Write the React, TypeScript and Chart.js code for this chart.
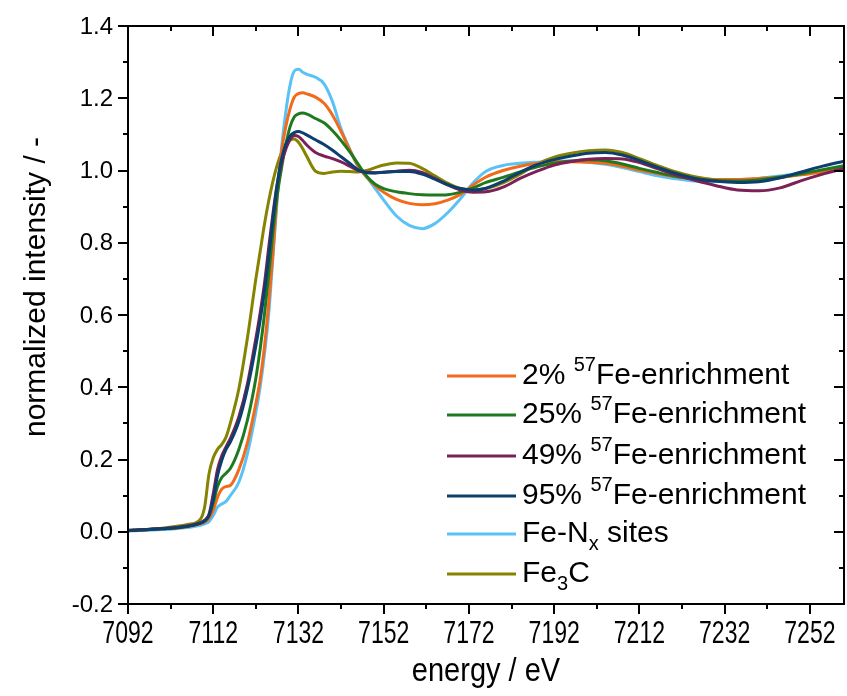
import React, { useEffect, useRef } from 'react';
import { Chart, registerables } from 'chart.js';

Chart.register(...registerables);

// ---------- data ----------
const energy = [
  7092, 7100, 7106, 7109, 7110, 7111, 7112, 7113, 7114, 7115, 7116, 7118, 7120, 7122,
  7123, 7124, 7125, 7126, 7127, 7128, 7129, 7130, 7131, 7132, 7133, 7134, 7136, 7138,
  7140, 7142, 7144, 7146, 7148, 7150, 7152, 7155, 7158, 7161, 7164, 7167, 7170, 7173,
  7176, 7180, 7184, 7188, 7192, 7196, 7200, 7204, 7208, 7212, 7216, 7220, 7225, 7230,
  7235, 7240, 7245, 7250, 7255, 7260,
];

const enrich2 = [
  0.003, 0.008, 0.014, 0.022, 0.027, 0.037, 0.06, 0.095, 0.118, 0.125, 0.128, 0.172, 0.245, 0.355,
  0.42, 0.51, 0.63, 0.77, 0.93, 1.05, 1.12, 1.17, 1.203, 1.213, 1.215, 1.212, 1.203, 1.186,
  1.153, 1.108, 1.058, 1.012, 0.982, 0.958, 0.94, 0.92, 0.909, 0.905, 0.908, 0.918, 0.934, 0.96,
  0.982, 1.0, 1.012, 1.02, 1.024, 1.024, 1.023, 1.02, 1.012, 1.001, 0.992, 0.984, 0.977, 0.975,
  0.975, 0.978, 0.982, 0.988, 0.996, 1.004,
];

const enrich25 = [
  0.003, 0.008, 0.015, 0.024, 0.03, 0.045, 0.08, 0.125, 0.15, 0.162, 0.175, 0.228, 0.308, 0.425,
  0.505, 0.6, 0.71, 0.83, 0.93, 1.005, 1.07, 1.12, 1.148, 1.157, 1.159, 1.156, 1.144, 1.132,
  1.11, 1.083, 1.052, 1.018, 0.984, 0.962, 0.95, 0.941, 0.936, 0.933, 0.932, 0.933, 0.94, 0.952,
  0.967, 0.981, 0.996, 1.01, 1.02, 1.026, 1.03, 1.027, 1.018, 1.006, 0.995, 0.985, 0.977, 0.972,
  0.971, 0.974, 0.982, 0.991, 1.002, 1.013,
];

const enrich49 = [
  0.004, 0.009, 0.016, 0.025, 0.032, 0.048, 0.105, 0.172, 0.21, 0.235, 0.258, 0.318, 0.408, 0.535,
  0.605, 0.685, 0.785, 0.88, 0.962, 1.02, 1.058, 1.085, 1.097, 1.094, 1.083, 1.07, 1.05, 1.04,
  1.033, 1.024, 1.012, 1.0, 0.995, 0.994, 0.995, 0.998, 1.001, 0.995, 0.978, 0.96, 0.946, 0.94,
  0.941, 0.954, 0.978, 0.998, 1.015, 1.025, 1.031, 1.033, 1.032, 1.022, 1.006, 0.99, 0.973, 0.958,
  0.946, 0.944, 0.952, 0.972, 0.99, 1.006,
];

const enrich95 = [
  0.003, 0.008, 0.015, 0.024, 0.03, 0.045, 0.09, 0.155, 0.198, 0.228, 0.248, 0.305, 0.395, 0.515,
  0.585, 0.665, 0.76, 0.865, 0.96, 1.03, 1.072, 1.095, 1.105, 1.108, 1.104, 1.098, 1.085, 1.072,
  1.056, 1.038, 1.02, 1.002, 0.994, 0.993, 0.995, 0.997, 0.997, 0.99, 0.976, 0.961, 0.95, 0.946,
  0.951, 0.97, 0.995, 1.016, 1.03, 1.04, 1.048, 1.05, 1.043, 1.028, 1.01, 0.994, 0.978, 0.97,
  0.967, 0.969, 0.98, 0.996, 1.012, 1.026,
];

const feNxSites = [
  0.002, 0.006, 0.012, 0.018, 0.022, 0.028, 0.045, 0.068, 0.077, 0.084, 0.1, 0.137, 0.215, 0.33,
  0.4, 0.49, 0.6, 0.76, 0.92, 1.06, 1.16, 1.235, 1.275, 1.28, 1.272, 1.266, 1.258, 1.24,
  1.19, 1.115, 1.06, 1.01, 0.982, 0.95, 0.918, 0.874, 0.848, 0.839, 0.853, 0.883, 0.922, 0.966,
  0.998, 1.014, 1.02, 1.023, 1.025, 1.026, 1.023, 1.017, 1.008, 0.997, 0.986, 0.978, 0.971, 0.97,
  0.973, 0.978, 0.985, 0.992, 0.998, 1.005,
];

const fe3c = [
  0.004, 0.01, 0.02, 0.035, 0.07, 0.16, 0.205, 0.228, 0.242, 0.262, 0.3, 0.395, 0.535, 0.7,
  0.775, 0.85, 0.915, 0.97, 1.015, 1.048, 1.07, 1.084, 1.087, 1.078, 1.06, 1.038, 0.998, 0.992,
  0.996, 0.998, 0.997, 0.996, 1.0, 1.008, 1.015, 1.021, 1.02, 1.006, 0.985, 0.965, 0.95, 0.945,
  0.95, 0.966, 0.99, 1.018, 1.037, 1.048, 1.055, 1.057, 1.05, 1.033, 1.015, 0.998, 0.983, 0.974,
  0.97, 0.972, 0.98, 0.99, 1.0, 1.01,
];

const xMajorTicks = [7092, 7112, 7132, 7152, 7172, 7192, 7212, 7232, 7252];
const xMinorTicks = [7102, 7122, 7142, 7162, 7182, 7202, 7222, 7242];
const yMajorTicks = [-0.2, 0, 0.2, 0.4, 0.6, 0.8, 1.0, 1.2, 1.4];
const yTickLabels = ['-0.2', '0.0', '0.2', '0.4', '0.6', '0.8', '1.0', '1.2', '1.4'];
const yMinorTicks = [-0.1, 0.1, 0.3, 0.5, 0.7, 0.9, 1.1, 1.3];

const xTitle = 'energy / eV';
const yTitle = 'normalized intensity / -';

type Part = { text: string; kind?: 'sup' | 'sub' };
const legendLabels: Part[][] = [
  [{ text: '2% ' }, { text: '57', kind: 'sup' }, { text: 'Fe-enrichment' }],
  [{ text: '25% ' }, { text: '57', kind: 'sup' }, { text: 'Fe-enrichment' }],
  [{ text: '49% ' }, { text: '57', kind: 'sup' }, { text: 'Fe-enrichment' }],
  [{ text: '95% ' }, { text: '57', kind: 'sup' }, { text: 'Fe-enrichment' }],
  [{ text: 'Fe-N' }, { text: 'x', kind: 'sub' }, { text: ' sites' }],
  [{ text: 'Fe' }, { text: '3', kind: 'sub' }, { text: 'C' }],
];

const seriesValues = [enrich2, enrich25, enrich49, enrich95, feNxSites, fe3c];
const seriesColors = ['#F26A1B', '#1F7A1F', '#7B2157', '#0C3E6E', '#5BC2F7', '#858300'];
const drawOrder = [3, 2, 1, 0, 5, 4];

const FONT = '"Liberation Sans", Arial, Helvetica, sans-serif';

const axesPlugin = {
  id: 'customAxes',
  afterDraw(chart: any) {
    const { ctx, chartArea: a, scales } = chart;
    const xs = scales.x;
    const ys = scales.y;
    ctx.save();
    ctx.strokeStyle = '#000';
    ctx.fillStyle = '#000';
    ctx.lineWidth = 2;
    // box
    ctx.strokeRect(a.left, a.top, a.right - a.left, a.bottom - a.top);
    const major = 10;
    const minor = 5;
    ctx.beginPath();
    const xTick = (v: number, len: number) => {
      const px = Math.round(xs.getPixelForValue(v));
      ctx.moveTo(px, a.bottom);
      ctx.lineTo(px, a.bottom + len);
      ctx.moveTo(px, a.top);
      ctx.lineTo(px, a.top + len);
    };
    const yTick = (v: number, len: number) => {
      const py = Math.round(ys.getPixelForValue(v));
      ctx.moveTo(a.left, py);
      ctx.lineTo(a.left - len, py);
      ctx.moveTo(a.right, py);
      ctx.lineTo(a.right - len, py);
    };
    xMajorTicks.forEach((v) => xTick(v, major));
    xMinorTicks.forEach((v) => xTick(v, minor));
    yMajorTicks.forEach((v) => yTick(v, major));
    yMinorTicks.forEach((v) => yTick(v, minor));
    ctx.stroke();

    // y tick labels
    ctx.font = `24px ${FONT}`;
    ctx.textAlign = 'right';
    ctx.textBaseline = 'middle';
    yMajorTicks.forEach((v, i) => {
      ctx.fillText(yTickLabels[i], a.left - 15, ys.getPixelForValue(v) + 1);
    });
    // x tick labels (slightly tall text as in reference)
    ctx.textAlign = 'center';
    ctx.textBaseline = 'middle';
    ctx.font = `24px ${FONT}`;
    xMajorTicks.forEach((v) => {
      ctx.save();
      ctx.translate(xs.getPixelForValue(v), a.bottom + 30);
      ctx.scale(0.96, 1.3);
      ctx.fillText(String(v), 0, 0);
      ctx.restore();
    });

    // titles
    ctx.font = `29px ${FONT}`;
    ctx.save();
    ctx.translate((a.left + a.right) / 2, a.bottom + 68);
    ctx.scale(1, 1.15);
    ctx.fillText(xTitle, 0, 0);
    ctx.restore();
    ctx.font = `30px ${FONT}`;
    ctx.save();
    ctx.translate(37, 287);
    ctx.rotate(-Math.PI / 2);
    ctx.fillText(yTitle, 0, 0);
    ctx.restore();

    // legend
    const size = 30;
    const lx0 = 447;
    const lx1 = 516;
    const tx = 522;
    const rowY = [376, 415, 456, 496, 534, 574];
    legendLabels.forEach((parts, i) => {
      const y = rowY[i];
      ctx.strokeStyle = seriesColors[i];
      ctx.lineWidth = 3;
      ctx.beginPath();
      ctx.moveTo(lx0, y);
      ctx.lineTo(lx1, y);
      ctx.stroke();
      ctx.textAlign = 'left';
      ctx.textBaseline = 'middle';
      let cx = tx;
      parts.forEach((p) => {
        const s = p.kind ? 20 : size;
        ctx.font = `${s}px ${FONT}`;
        const dy = p.kind === 'sup' ? -11 : p.kind === 'sub' ? 10 : 0;
        ctx.fillStyle = '#000';
        ctx.fillText(p.text, cx, y + dy);
        cx += ctx.measureText(p.text).width;
      });
    });
    ctx.restore();
  },
};

export default function App() {
  const ref = useRef<HTMLCanvasElement | null>(null);
  useEffect(() => {
    if (!ref.current) return;
    const datasets = seriesValues.map((vals, i) => ({
      label: legendLabels[i].map((p) => p.text).join(''),
      data: energy.map((e, k) => ({ x: e, y: vals[k] })),
      borderColor: seriesColors[i],
      backgroundColor: seriesColors[i],
      borderWidth: 3,
      pointRadius: 0,
      cubicInterpolationMode: 'monotone' as const,
      fill: false,
      order: drawOrder[i],
    }));
    const chart = new Chart(ref.current, {
      type: 'line',
      data: { datasets },
      options: {
        animation: false,
        responsive: false,
        devicePixelRatio: 1,
        layout: { padding: { left: 128, top: 26, right: 3, bottom: 92 } },
        plugins: { legend: { display: false }, tooltip: { enabled: false } },
        scales: {
          x: { type: 'linear', min: 7092, max: 7260, display: false },
          y: { type: 'linear', min: -0.2, max: 1.4, display: false },
        },
      },
      plugins: [axesPlugin],
    });
    return () => chart.destroy();
  }, []);
  return (
    <div style={{ position: 'absolute', left: 0, top: 0, width: 847, height: 696, background: '#fff' }}>
      <canvas ref={ref} width={847} height={696} />
    </div>
  );
}
